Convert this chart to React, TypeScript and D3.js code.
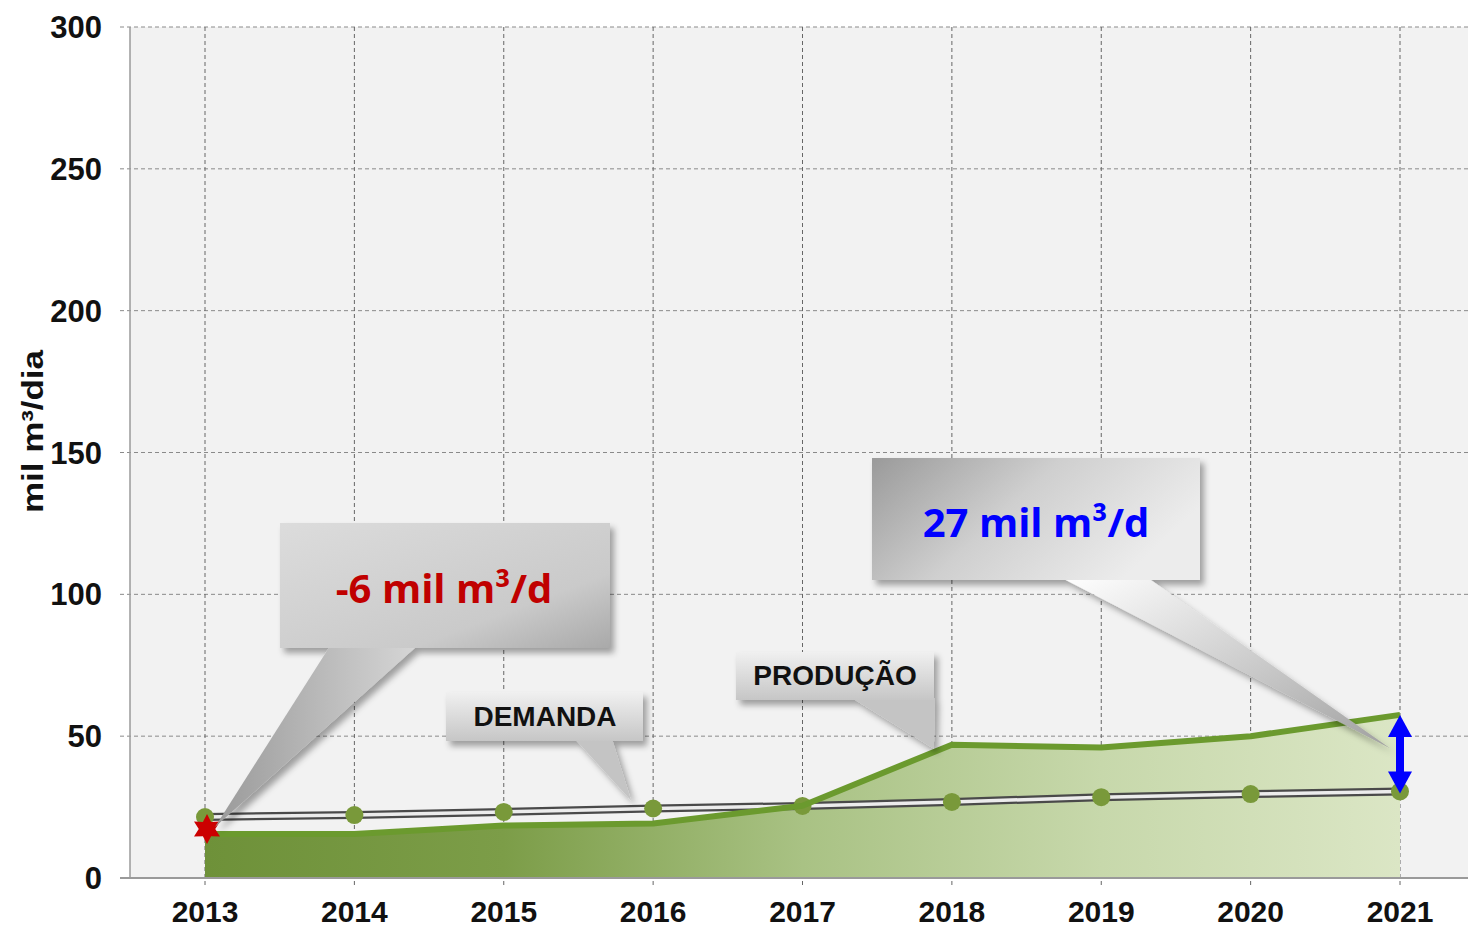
import React from "react";
import * as d3 from "d3";

const years = [2013, 2014, 2015, 2016, 2017, 2018, 2019, 2020, 2021];
const producao = [15.5, 15.5, 18.5, 19.2, 25.5, 47, 46, 50, 57.5];
const demanda = [21.5, 22.2, 23.3, 24.5, 25.4, 26.8, 28.5, 29.6, 30.5];
const yTicks = [0, 50, 100, 150, 200, 250, 300];
const calloutNeg = "-6 mil m³/d";
const calloutPos = "27 mil m³/d";
const labelDemanda = "DEMANDA";
const labelProducao = "PRODUÇÃO";
const yTitle = "mil m³/dia";

const W = 1468;
const H = 930;
const plotLeft = 130;
const plotRight = 1468;
const plotTop = 27;
const plotBottom = 878;

export default function App() {
  const x = d3.scaleLinear().domain([2013, 2021]).range([205, 1400]);
  const y = d3.scaleLinear().domain([0, 300]).range([plotBottom, plotTop]);

  const area = d3
    .area<number>()
    .x((_, i) => x(years[i]))
    .y0(y(0))
    .y1((d) => y(d));
  const line = d3
    .line<number>()
    .x((_, i) => x(years[i]))
    .y((d) => y(d));

  const star = (cx: number, cy: number, r: number) => {
    const pts: string[] = [];
    for (let k = 0; k < 12; k++) {
      const a = (Math.PI / 6) * k - Math.PI / 2;
      const rr = k % 2 === 0 ? r : r * 0.55;
      pts.push(`${cx + rr * Math.cos(a)},${cy + rr * Math.sin(a)}`);
    }
    return pts.join(" ");
  };

  const ax = x(2021);
  const aTop = y(producao[8]);
  const aBot = y(demanda[8]);
  const font = "'Liberation Sans', Arial, sans-serif";
  const calloutFont = "'Open Sans', 'Noto Sans', sans-serif";

  return (
    <div style={{ position: "fixed", left: 0, top: 0, width: W, height: H, overflow: "hidden" }}>
      <svg width={W} height={H} style={{ display: "block", background: "#fff" }}>
        <defs>
          <linearGradient id="areaGrad" x1="0" y1="0" x2="1" y2="0">
            <stop offset="0" stopColor="#6e9139" />
            <stop offset="0.25" stopColor="#7c9d48" />
            <stop offset="0.5" stopColor="#a9c284" />
            <stop offset="0.75" stopColor="#c7d8ab" />
            <stop offset="1" stopColor="#dbe6c5" />
          </linearGradient>
          <linearGradient id="boxNeg" x1="0" y1="0" x2="1" y2="1">
            <stop offset="0" stopColor="#dcdcdc" />
            <stop offset="0.7" stopColor="#cacaca" />
            <stop offset="1" stopColor="#a9a9a9" />
          </linearGradient>
          <linearGradient id="boxPos" x1="0" y1="0" x2="1" y2="0.4">
            <stop offset="0" stopColor="#9a9a9a" />
            <stop offset="0.5" stopColor="#cfcfcf" />
            <stop offset="1" stopColor="#ececec" />
          </linearGradient>
          <linearGradient id="boxLab" x1="0" y1="0" x2="0" y2="1">
            <stop offset="0" stopColor="#f0f0f0" />
            <stop offset="1" stopColor="#c6c6c6" />
          </linearGradient>
          <linearGradient id="tailNeg" x1="0" y1="0" x2="1" y2="0">
            <stop offset="0" stopColor="#9a9a9a" />
            <stop offset="1" stopColor="#d6d6d6" />
          </linearGradient>
          <linearGradient id="tailPos" x1="0" y1="0" x2="1" y2="1">
            <stop offset="0" stopColor="#ffffff" />
            <stop offset="1" stopColor="#a0a0a0" />
          </linearGradient>
          <filter id="shadow" x="-10%" y="-10%" width="130%" height="140%">
            <feDropShadow dx="4" dy="5" stdDeviation="3" floodColor="#000" floodOpacity="0.35" />
          </filter>
        </defs>

        <rect x={plotLeft} y={plotTop} width={plotRight - plotLeft} height={plotBottom - plotTop} fill="#f2f2f2" />

        {yTicks.map((t) => (
          <line
            key={"h" + t}
            x1={120}
            x2={plotRight}
            y1={y(t)}
            y2={y(t)}
            stroke="#8a8a8a"
            strokeWidth={1}
            strokeDasharray="4,3"
          />
        ))}
        {years.map((yr) => (
          <line
            key={"v" + yr}
            x1={x(yr)}
            x2={x(yr)}
            y1={plotTop}
            y2={plotBottom + 10}
            stroke="#666"
            strokeWidth={1}
            strokeDasharray="4,3"
          />
        ))}

        <path d={area(producao) || ""} fill="url(#areaGrad)" />

        <line x1={plotLeft} x2={plotLeft} y1={plotTop} y2={plotBottom} stroke="#9a9a9a" strokeWidth={1.5} />
        <line x1={120} x2={plotRight} y1={plotBottom} y2={plotBottom} stroke="#9a9a9a" strokeWidth={2} />

        <path d={line(demanda) || ""} fill="none" stroke="#4a4a4a" strokeWidth={8} />
        <path d={line(demanda) || ""} fill="none" stroke="#ececec" strokeWidth={3.5} />
        {demanda.map((d, i) => (
          <circle key={"c" + i} cx={x(years[i])} cy={y(d)} r={9} fill="#79993a" />
        ))}

        <path d={line(producao) || ""} fill="none" stroke="#6b9a2e" strokeWidth={6} strokeLinejoin="round" />

        <polygon points={star(x(2013) + 2, y(producao[0]) - 5, 15)} fill="#cc0000" />

        <g fill="#0000ff">
          <rect x={ax - 4} y={aTop + 18} width={8} height={aBot - aTop - 36} />
          <polygon points={`${ax},${aTop} ${ax - 12},${aTop + 22} ${ax + 12},${aTop + 22}`} />
          <polygon points={`${ax},${aBot + 2} ${ax - 12},${aBot - 20} ${ax + 12},${aBot - 20}`} />
        </g>

        <g filter="url(#shadow)">
          <polygon points={`330,646 417,646 ${x(2013) + 10},${y(producao[0]) - 7}`} fill="url(#tailNeg)" />
          <rect x={280} y={523} width={330} height={125} fill="url(#boxNeg)" />
        </g>
        <text x={444} y={603} textAnchor="middle" fontFamily={calloutFont} fontWeight={700} fontSize={40} fill="#c00000">
          {calloutNeg}
        </text>

        <g filter="url(#shadow)">
          <polygon points={`1062,578 1148,578 ${ax - 10},${(aTop + aBot) / 2 - 5}`} fill="url(#tailPos)" />
          <rect x={872} y={458} width={328} height={122} fill="url(#boxPos)" />
        </g>
        <text x={1036} y={537} textAnchor="middle" fontFamily={calloutFont} fontWeight={700} fontSize={40} fill="#0000ff">
          {calloutPos}
        </text>

        <g filter="url(#shadow)">
          <polygon points={`575,739 612,739 ${x(2016) - 22},${y(demanda[3]) - 8}`} fill="#c4c4c4" />
          <rect x={446} y={692} width={197} height={49} fill="url(#boxLab)" />
        </g>
        <text x={545} y={726} textAnchor="middle" fontFamily={font} fontWeight={700} fontSize={28} fill="#111">
          {labelDemanda}
        </text>

        <g filter="url(#shadow)">
          <polygon points={`852,698 935,698 ${x(2018) - 18},${y(producao[5]) + 4}`} fill="#c4c4c4" />
          <rect x={736} y={652} width={198} height={48} fill="url(#boxLab)" />
        </g>
        <text x={835} y={685} textAnchor="middle" fontFamily={font} fontWeight={700} fontSize={28} fill="#111">
          {labelProducao}
        </text>

        {yTicks.map((t) => (
          <text key={"yl" + t} x={102} y={y(t) + 11} textAnchor="end" fontFamily={font} fontWeight={700} fontSize={31} fill="#111">
            {t}
          </text>
        ))}
        {years.map((yr) => (
          <text key={"xl" + yr} x={x(yr)} y={922} textAnchor="middle" fontFamily={font} fontWeight={700} fontSize={30} fill="#111">
            {yr}
          </text>
        ))}
        <text
          transform={`translate(43,431.5) rotate(-90)`}
          textAnchor="middle"
          fontFamily={font}
          fontWeight={700}
          fontSize={30}
          textLength={163}
          lengthAdjust="spacingAndGlyphs"
          fill="#111"
        >
          {yTitle}
        </text>
      </svg>
    </div>
  );
}
